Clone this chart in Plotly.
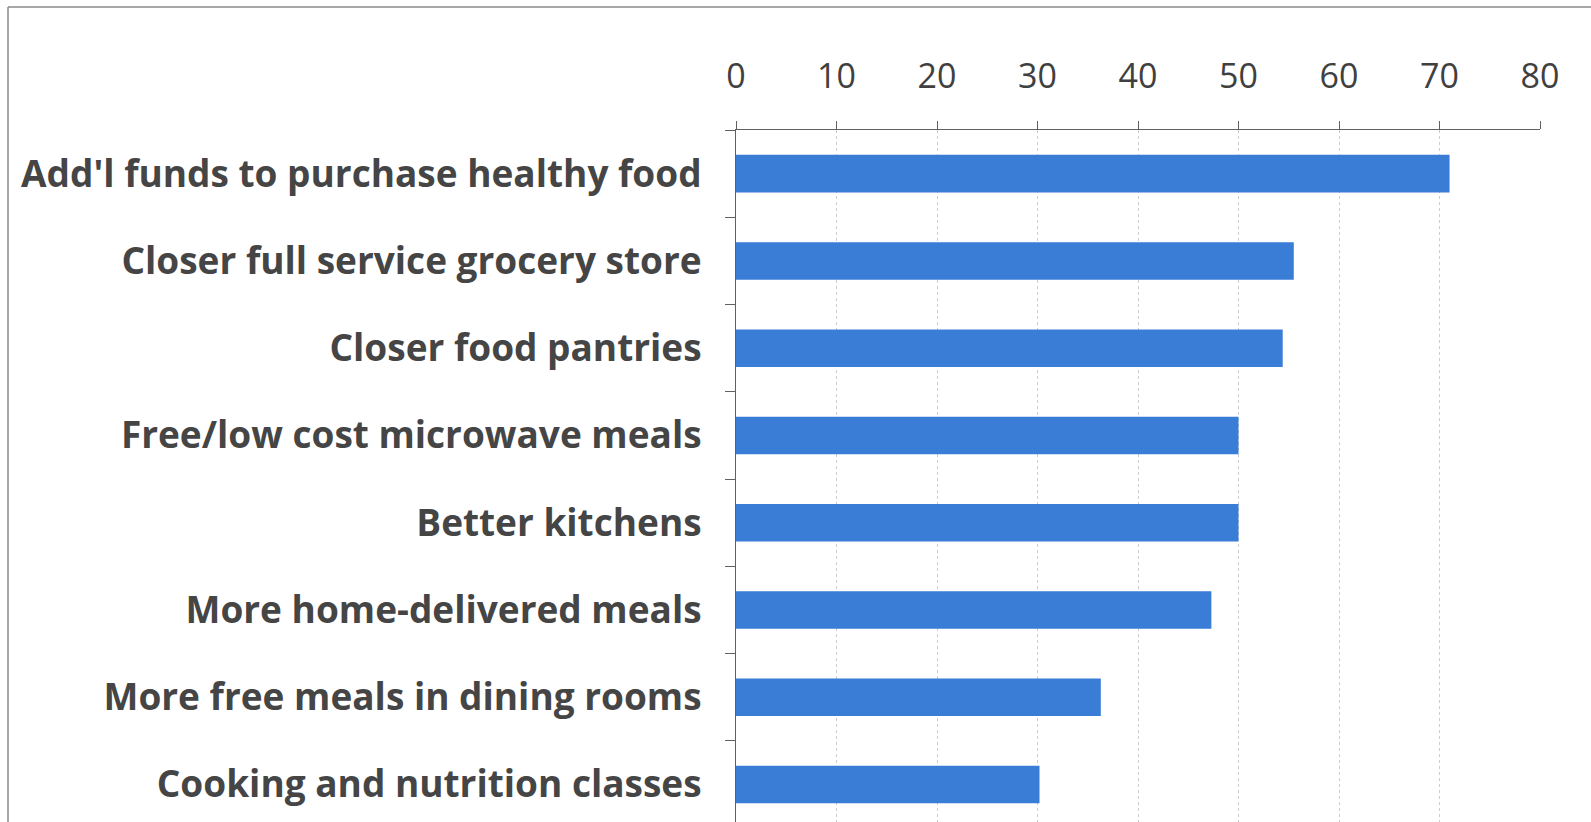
import plotly.graph_objects as go

categories = [
    "Add'l funds to purchase healthy food",
    "Closer full service grocery store",
    "Closer food pantries",
    "Free/low cost microwave meals",
    "Better kitchens",
    "More home-delivered meals",
    "More free meals in dining rooms",
    "Cooking and nutrition classes",
]
values = [71, 55.5, 54.4, 50, 50, 47.3, 36.3, 30.2]
tick_vals = [0, 10, 20, 30, 40, 50, 60, 70, 80]

W, H = 1591, 822
L, R, T, B = 736, 51, 130, 0
pw, ph = W - L - R, H - T - B

fig = go.Figure(go.Bar(
    x=values, y=categories, orientation="h",
    marker=dict(color="#3A7DD6", line=dict(width=0)),
))

fig.update_layout(
    width=W, height=H,
    margin=dict(l=L, r=R, t=T, b=B, pad=0),
    paper_bgcolor="white", plot_bgcolor="white",
    bargap=0.57,
    showlegend=False,
    font=dict(family="Open Sans", color="#404040"),
)
fig.update_xaxes(
    side="top", range=[0, 80], tickvals=tick_vals,
    showgrid=True, gridcolor="#cccccc", griddash="dot", gridwidth=1,
    showline=True, linecolor="#606060", linewidth=1,
    ticks="outside", ticklen=8, tickcolor="#606060",
    tickfont=dict(family="Open Sans", size=34, color="#404040"),
    ticklabelstandoff=19, zeroline=False,
)
fig.update_yaxes(
    autorange=False, range=[7.43, -0.5], type="category",
    showline=True, linecolor="#606060", linewidth=1,
    ticks="outside", ticklen=10, tickcolor="#606060", tickson="boundaries",
    tickfont=dict(family="Open Sans", size=37, color="#454545", weight="bold"),
    ticklabelstandoff=26, showgrid=False,
)

# outer frame of the scanned chart
x0 = (8 - L) / pw
y1 = (H - 7 - B) / ph
fig.add_shape(type="line", xref="paper", yref="paper", x0=x0, x1=(W + 5 - L) / pw,
              y0=y1, y1=y1, line=dict(color="#8a8a8a", width=1.5))
fig.add_shape(type="line", xref="paper", yref="paper", x0=x0, x1=x0,
              y0=-0.05, y1=y1, line=dict(color="#8a8a8a", width=1.5))

fig.write_html("out.html")
